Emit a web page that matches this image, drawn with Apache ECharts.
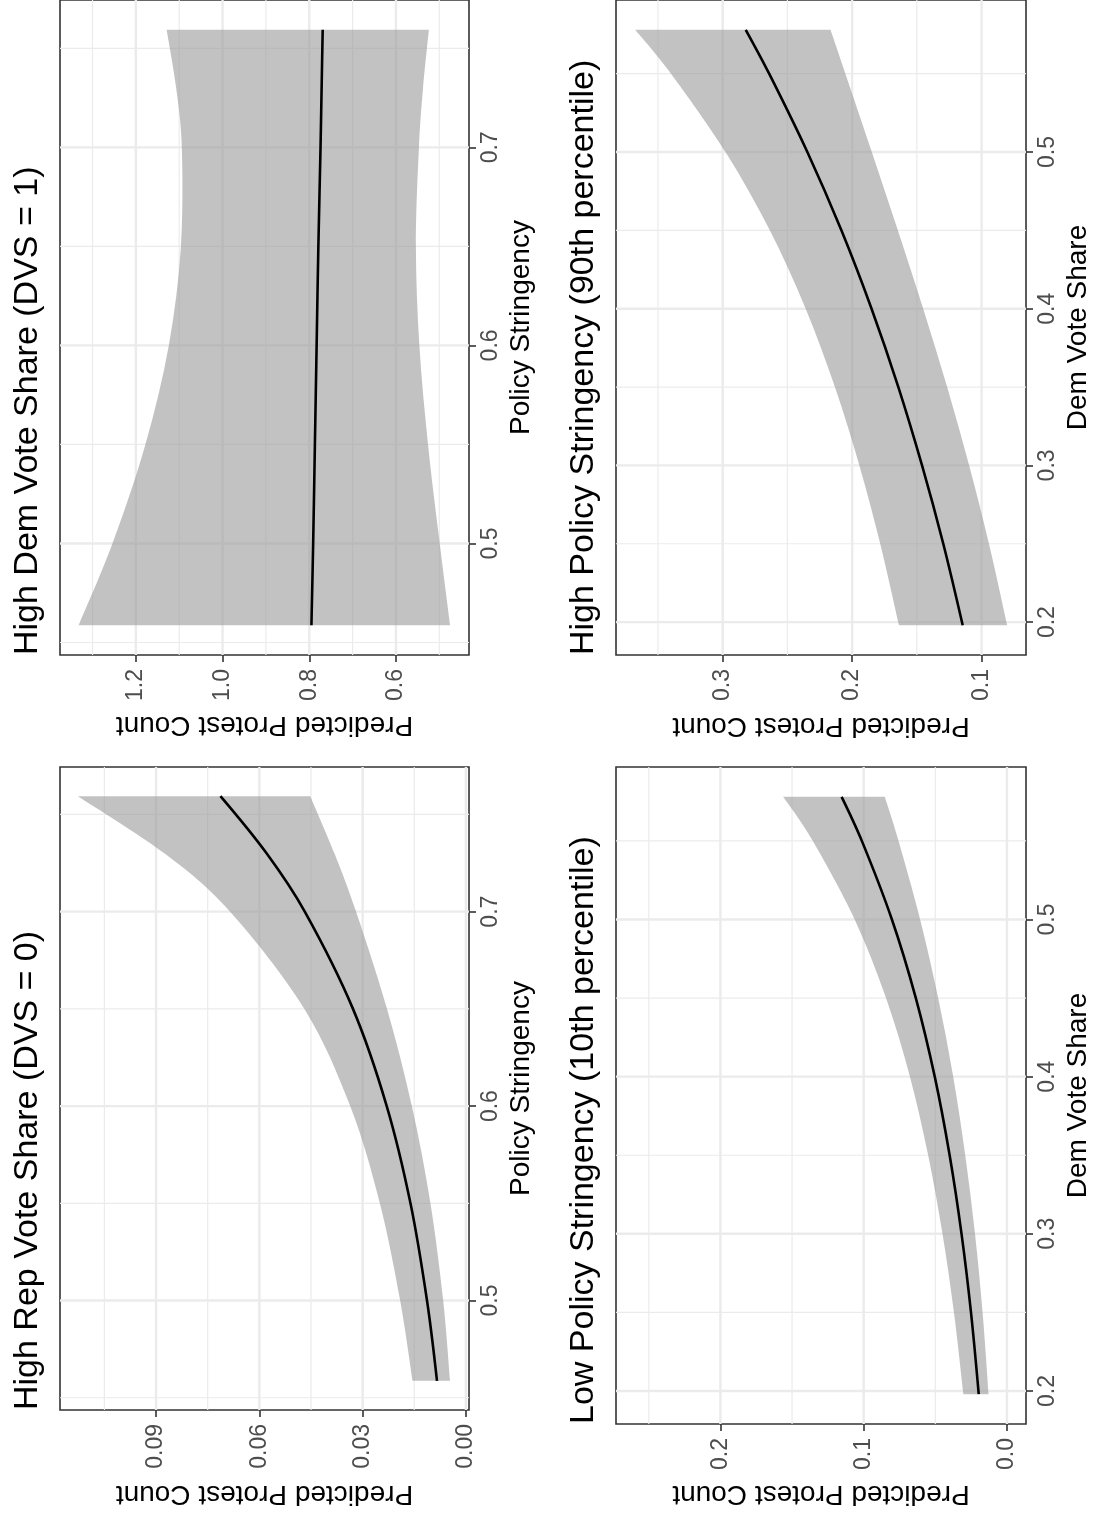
<!DOCTYPE html>
<html>
<head>
<meta charset="utf-8">
<script src="https://cdn.jsdelivr.net/npm/echarts@6/dist/echarts.min.js"></script>
<style>
html,body{margin:0;padding:0;background:#ffffff;}
#chart{width:1097px;height:1521px;}
</style>
</head>
<body>
<div id="chart"></div>
<script>
// ---------------- data ----------------
// Policy Stringency grid (panels "High Dem" and "High Rep")
const stringency = [0.4587, 0.50, 0.55, 0.60, 0.65, 0.70, 0.73, 0.7594];
// High Dem Vote Share (DVS = 1)
const demFit   = [0.795, 0.791, 0.787, 0.783, 0.779, 0.774, 0.7715, 0.769];
const demUpper = [1.332, 1.254, 1.178, 1.124, 1.096, 1.094, 1.107, 1.129];
const demLower = [0.475, 0.499, 0.526, 0.546, 0.554, 0.547, 0.5375, 0.524];
// High Rep Vote Share (DVS = 0)
const repFit   = [0.0084, 0.0113, 0.0161, 0.0230, 0.0328, 0.0468, 0.0579, 0.0713];
const repUpper = [0.0155, 0.0191, 0.0250, 0.0336, 0.0469, 0.0685, 0.0876, 0.1127];
const repLower = [0.0046, 0.0066, 0.0103, 0.0157, 0.0229, 0.0319, 0.0382, 0.0452];

// Dem Vote Share grid (panels "Low Policy" and "High Policy")
const demShare = [0.198, 0.25, 0.30, 0.35, 0.40, 0.45, 0.50, 0.55, 0.578];
// Low Policy Stringency (10th percentile)
const lowFit   = [0.0197, 0.0251, 0.0317, 0.0400, 0.0504, 0.0636, 0.0803, 0.1013, 0.1154];
const lowUpper = [0.0304, 0.0370, 0.0450, 0.0550, 0.0677, 0.0844, 0.1063, 0.1356, 0.1562];
const lowLower = [0.0128, 0.0170, 0.0223, 0.0291, 0.0375, 0.0480, 0.0606, 0.0757, 0.0853];
// High Policy Stringency (90th percentile)
const highFit   = [0.1146, 0.1296, 0.1460, 0.1643, 0.1850, 0.2083, 0.2346, 0.2641, 0.2822];
const highUpper = [0.1638, 0.1783, 0.1944, 0.2133, 0.2359, 0.2636, 0.2978, 0.3399, 0.3676];
const highLower = [0.0802, 0.0943, 0.1096, 0.1266, 0.1451, 0.1647, 0.1848, 0.2052, 0.2167];

// tick values and labels
const stringencyTicks  = [0.5, 0.6, 0.7];
const stringencyLabels = ['0.5', '0.6', '0.7'];
const stringencyMinor  = [0.45, 0.55, 0.65, 0.75];
const demShareTicks  = [0.2, 0.3, 0.4, 0.5];
const demShareLabels = ['0.2', '0.3', '0.4', '0.5'];
const demShareMinor  = [0.25, 0.35, 0.45, 0.55];

const demCountTicks  = [0.6, 0.8, 1.0, 1.2];
const demCountLabels = ['0.6', '0.8', '1.0', '1.2'];
const demCountMinor  = [0.5, 0.7, 0.9, 1.1, 1.3];
const repCountTicks  = [0.00, 0.03, 0.06, 0.09];
const repCountLabels = ['0.00', '0.03', '0.06', '0.09'];
const repCountMinor  = [0.015, 0.045, 0.075, 0.105];
const lowCountTicks  = [0.0, 0.1, 0.2];
const lowCountLabels = ['0.0', '0.1', '0.2'];
const lowCountMinor  = [0.05, 0.15, 0.25];
const highCountTicks  = [0.1, 0.2, 0.3];
const highCountLabels = ['0.1', '0.2', '0.3'];
const highCountMinor  = [0.15, 0.25, 0.35];

const titles = [
  'High Dem Vote Share (DVS = 1)',
  'High Rep Vote Share (DVS = 0)',
  'High Policy Stringency (90th percentile)',
  'Low Policy Stringency (10th percentile)'
];
const countName = 'Predicted Protest Count';
const stringencyName = 'Policy Stringency';
const demShareName = 'Dem Vote Share';

// ---------------- layout / style ----------------
const FONT = '"Liberation Sans", Arial, Helvetica, sans-serif';
const panels = [
  { title: titles[0], rect: {left: 60, top: -2, width: 409, height: 657},
    xMin: 0.4315, xMax: 1.375, yMin: 0.4437, yMax: 0.7744,
    ys: stringency, fit: demFit, up: demUpper, lo: demLower,
    xT: demCountTicks, xL: demCountLabels, xM: demCountMinor,
    yT: stringencyTicks, yL: stringencyLabels, yM: stringencyMinor,
    yName: stringencyName, xGap: 56, titleX: 28, titleY: 655 },
  { title: titles[1], rect: {left: 60, top: 767, width: 409, height: 643},
    xMin: -0.0009, xMax: 0.1179, yMin: 0.4437, yMax: 0.7744,
    ys: stringency, fit: repFit, up: repUpper, lo: repLower,
    xT: repCountTicks, xL: repCountLabels, xM: repCountMinor,
    yT: stringencyTicks, yL: stringencyLabels, yM: stringencyMinor,
    yName: stringencyName, xGap: 70, titleX: 28, titleY: 1410 },
  { title: titles[2], rect: {left: 616, top: -2, width: 410, height: 657},
    xMin: 0.0657, xMax: 0.3824, yMin: 0.179, yMax: 0.597,
    ys: demShare, fit: highFit, up: highUpper, lo: highLower,
    xT: highCountTicks, xL: highCountLabels, xM: highCountMinor,
    yT: demShareTicks, yL: demShareLabels, yM: demShareMinor,
    yName: demShareName, xGap: 57, titleX: 584, titleY: 655 },
  { title: titles[3], rect: {left: 616, top: 767, width: 410, height: 657},
    xMin: -0.0133, xMax: 0.2729, yMin: 0.179, yMax: 0.597,
    ys: demShare, fit: lowFit, up: lowUpper, lo: lowLower,
    xT: lowCountTicks, xL: lowCountLabels, xM: lowCountMinor,
    yT: demShareTicks, yL: demShareLabels, yM: demShareMinor,
    yName: demShareName, xGap: 56, titleX: 584, titleY: 1424 }
];

function labelFor(ticks, labels) {
  return function (v) {
    let best = 0, bd = Infinity;
    ticks.forEach((t, i) => { const d = Math.abs(t - v); if (d < bd) { bd = d; best = i; } });
    return labels[best];
  };
}

function smoothSegs(pts) {
  let d = '';
  for (let i = 0; i < pts.length - 1; i++) {
    const p0 = pts[Math.max(i - 1, 0)], p1 = pts[i], p2 = pts[i + 1], p3 = pts[Math.min(i + 2, pts.length - 1)];
    const c1 = [p1[0] + (p2[0] - p0[0]) / 6, p1[1] + (p2[1] - p0[1]) / 6];
    const c2 = [p2[0] - (p3[0] - p1[0]) / 6, p2[1] - (p3[1] - p1[1]) / 6];
    d += ' C' + c1[0] + ',' + c1[1] + ' ' + c2[0] + ',' + c2[1] + ' ' + p2[0] + ',' + p2[1];
  }
  return d;
}

const grid = [], xAxis = [], yAxis = [], series = [], graphic = [];

panels.forEach((p, i) => {
  grid.push(Object.assign({ show: true, borderColor: '#333333', borderWidth: 1.6, backgroundColor: 'transparent', containLabel: false }, p.rect));

  xAxis.push({
    type: 'value', gridIndex: i, min: p.xMin, max: p.xMax, inverse: true, position: 'bottom',
    name: countName, nameLocation: 'middle', nameRotate: 180, nameGap: p.xGap,
    nameTextStyle: { fontSize: 28, color: '#000000', fontFamily: FONT },
    axisLine: { show: false, onZero: false },
    axisTick: { show: true, length: 7, lineStyle: { color: '#333333', width: 1.6 }, customValues: p.xT },
    axisLabel: { show: true, customValues: p.xT, rotate: 90, margin: 14, fontSize: 23, color: '#4D4D4D', fontFamily: FONT, formatter: labelFor(p.xT, p.xL) },
    splitLine: { show: false }
  });
  yAxis.push({
    type: 'value', gridIndex: i, min: p.yMin, max: p.yMax, position: 'right',
    name: p.yName, nameLocation: 'middle', nameRotate: 90, nameGap: 38,
    nameTextStyle: { fontSize: 28, color: '#000000', fontFamily: FONT },
    axisLine: { show: false, onZero: false },
    axisTick: { show: true, length: 7, lineStyle: { color: '#333333', width: 1.6 }, customValues: p.yT },
    axisLabel: { show: true, customValues: p.yT, rotate: 90, margin: 10, fontSize: 23, color: '#4D4D4D', fontFamily: FONT, formatter: labelFor(p.yT, p.yL) },
    splitLine: { show: false }
  });

  // grid lines
  series.push({
    type: 'custom', xAxisIndex: i, yAxisIndex: i, z: 1, silent: true, animation: false,
    data: [[p.xMin, p.yMin]],
    renderItem: function (params, api) {
      const cs = params.coordSys;
      const children = [];
      const vline = (v, w) => {
        const x = api.coord([v, p.yMin])[0];
        if (x < cs.x || x > cs.x + cs.width) return;
        children.push({ type: 'line', shape: { x1: x, y1: cs.y, x2: x, y2: cs.y + cs.height }, style: { stroke: '#EBEBEB', lineWidth: w } });
      };
      const hline = (v, w) => {
        const y = api.coord([p.xMin, v])[1];
        if (y < cs.y || y > cs.y + cs.height) return;
        children.push({ type: 'line', shape: { x1: cs.x, y1: y, x2: cs.x + cs.width, y2: y }, style: { stroke: '#EBEBEB', lineWidth: w } });
      };
      p.xM.forEach(v => vline(v, 1.2));
      p.yM.forEach(v => hline(v, 1.2));
      p.xT.forEach(v => vline(v, 2.4));
      p.yT.forEach(v => hline(v, 2.4));
      return { type: 'group', children: children };
    }
  });

  // confidence band
  series.push({
    type: 'custom', xAxisIndex: i, yAxisIndex: i, z: 2, silent: true, animation: false,
    data: [[p.fit[0], p.ys[0]]],
    renderItem: function (params, api) {
      const upPts = p.up.map((u, k) => api.coord([u, p.ys[k]]));
      const loPts = p.lo.map((l, k) => api.coord([l, p.ys[k]])).reverse();
      let d = 'M' + upPts[0][0] + ',' + upPts[0][1] + smoothSegs(upPts);
      d += ' L' + loPts[0][0] + ',' + loPts[0][1] + smoothSegs(loPts) + ' Z';
      return { type: 'path', shape: { pathData: d }, style: { fill: 'rgba(153,153,153,0.6)', stroke: 'none' } };
    }
  });

  // fitted line
  series.push({
    type: 'line', xAxisIndex: i, yAxisIndex: i, z: 3, silent: true, animation: false,
    data: p.fit.map((f, k) => [f, p.ys[k]]),
    smooth: 0.35, symbol: 'none',
    lineStyle: { color: '#000000', width: 2.6 }
  });

  graphic.push({
    type: 'text', x: p.titleX, y: p.titleY, rotation: Math.PI / 2, silent: true,
    style: { text: p.title, fontSize: 34, fontFamily: FONT, fill: '#000000',
             align: 'left', verticalAlign: 'middle', textAlign: 'left', textVerticalAlign: 'middle' }
  });
});

const chart = echarts.init(document.getElementById('chart'), null, { renderer: 'canvas' });
chart.setOption({
  backgroundColor: '#ffffff',
  animation: false,
  grid: grid, xAxis: xAxis, yAxis: yAxis, series: series, graphic: graphic
});
</script>
</body>
</html>
